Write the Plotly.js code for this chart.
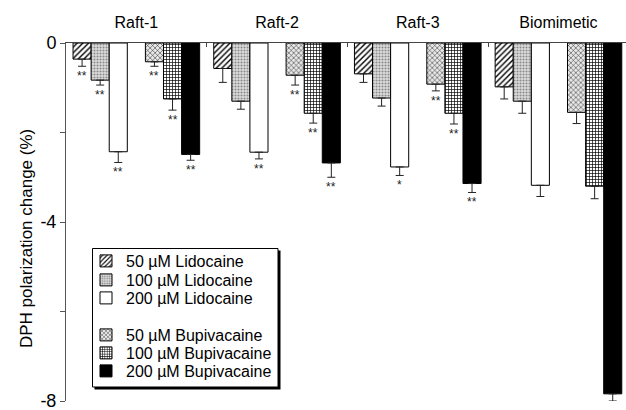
<!DOCTYPE html>
<html>
<head>
<meta charset="utf-8">
<script src="https://cdn.plot.ly/plotly-3.0.1.min.js"></script>
<style>html,body{margin:0;padding:0;background:#fff;}#chart{width:626px;height:410px;}</style>
</head>
<body>
<div id="chart"></div>
<script>
const categories = ['Raft-1', 'Raft-2', 'Raft-3', 'Biomimetic'];
const seriesNames = ['50 µM Lidocaine', '100 µM Lidocaine', '200 µM Lidocaine',
                     '50 µM Bupivacaine', '100 µM Bupivacaine', '200 µM Bupivacaine'];

const lido50 = [-0.36, -0.57, -0.69, -0.98];
const lido50Err = [0.16, 0.31, 0.19, 0.27];
const lido50Sig = ['**', '', '', ''];

const lido100 = [-0.83, -1.30, -1.23, -1.30];
const lido100Err = [0.11, 0.18, 0.18, 0.27];
const lido100Sig = ['**', '', '', ''];

const lido200 = [-2.43, -2.44, -2.77, -3.18];
const lido200Err = [0.24, 0.15, 0.19, 0.25];
const lido200Sig = ['**', '**', '*', ''];

const bupi50 = [-0.42, -0.72, -0.92, -1.55];
const bupi50Err = [0.10, 0.22, 0.15, 0.25];
const bupi50Sig = ['**', '**', '**', ''];

const bupi100 = [-1.25, -1.57, -1.57, -3.20];
const bupi100Err = [0.25, 0.22, 0.24, 0.28];
const bupi100Sig = ['**', '**', '**', ''];

const bupi200 = [-2.49, -2.68, -3.14, -7.84];
const bupi200Err = [0.13, 0.32, 0.20, 0.16];
const bupi200Sig = ['**', '**', '**', ''];

const yTickVals = [0, -2, -4, -6, -8];
const yTickText = ['0', '', '-4', '', '-8'];
const yTitle = 'DPH polarization change (%)';

// ---- styling / layout (not data) ----
const FONT = 'Liberation Sans, Arial, Helvetica, sans-serif';
const values = [lido50, lido100, lido200, bupi50, bupi100, bupi200];
const errs = [lido50Err, lido100Err, lido200Err, bupi50Err, bupi100Err, bupi200Err];
const sigs = [lido50Sig, lido100Sig, lido200Sig, bupi50Sig, bupi100Sig, bupi200Sig];
const slots = [0, 1, 2, 4, 5, 6];
const W = 0.9 / 7;
const styles = [
  {color: 'white', pattern: {shape: '/', fgcolor: '#000', bgcolor: '#fff', size: 4, solidity: 0.35, fillmode: 'replace'}},
  {color: '#d6d6d6', pattern: {shape: '.', fgcolor: '#8a8a8a', bgcolor: '#dedede', size: 3, solidity: 0.4, fillmode: 'replace'}},
  {color: 'white', pattern: {shape: ''}},
  {color: 'white', pattern: {shape: 'x', fgcolor: '#333', bgcolor: '#e8e8e8', size: 3.5, solidity: 0.3, fillmode: 'replace'}},
  {color: 'white', pattern: {shape: '+', fgcolor: '#000', bgcolor: '#fff', size: 3, solidity: 0.4, fillmode: 'replace'}},
  {color: 'black', pattern: {shape: ''}}
];

// plot area in pixels (for converting legend box positions to paper coords)
const PL = 66, PR = 626, PT = 43, PB = 401;
const px2x = p => (p - PL) / (PR - PL);
const py2y = p => (PB - p) / (PB - PT);
const legendRowsPx = [261, 280, 298, 335, 353, 371];
const legendIds = ['legend', 'legend2', 'legend3', 'legend4', 'legend5', 'legend6'];

const traces = values.map((v, i) => ({
  type: 'bar',
  name: seriesNames[i],
  x: categories,
  y: v,
  offset: -0.45 + slots[i] * W,
  width: W,
  legend: legendIds[i],
  cliponaxis: false,
  marker: {color: styles[i].color, pattern: styles[i].pattern, line: {color: '#000', width: 1}},
  error_y: {type: 'data', symmetric: false, array: v.map(() => 0), arrayminus: errs[i],
            color: '#222', thickness: 1, width: 4},
  hoverinfo: 'skip'
}));

const annotations = [];
values.forEach((v, i) => {
  v.forEach((val, c) => {
    if (sigs[i][c]) {
      annotations.push({
        xref: 'x', yref: 'y',
        x: c - 0.45 + slots[i] * W + W / 2,
        y: val - errs[i][c],
        text: sigs[i][c], showarrow: false,
        xanchor: 'center', yanchor: 'top', yshift: -1,
        font: {family: FONT, size: 12, color: '#222'}
      });
    }
  });
});
annotations.push({
  xref: 'paper', yref: 'paper', x: px2x(26), y: py2y(239),
  xanchor: 'center', yanchor: 'middle', textangle: -90, showarrow: false,
  text: yTitle, font: {family: FONT, size: 17, color: '#000'}
});

const layout = {
  width: 626, height: 410,
  margin: {l: PL, r: 626 - PR, t: PT, b: 410 - PB},
  paper_bgcolor: '#fff', plot_bgcolor: '#fff',
  font: {family: FONT, color: '#000', size: 16},
  barmode: 'overlay',
  showlegend: true,
  xaxis: {
    type: 'category', categoryorder: 'array', categoryarray: categories,
    range: [-0.5, 3.48], side: 'top',
    showline: true, linecolor: '#444', linewidth: 1,
    ticks: 'inside', tickson: 'boundaries', ticklen: 4, tickcolor: '#444',
    showgrid: false, zeroline: false, fixedrange: true,
    tickfont: {size: 16}, ticklabelstandoff: 8
  },
  yaxis: {
    range: [-8, 0], tickvals: yTickVals, ticktext: yTickText,
    showline: true, linecolor: '#555', linewidth: 1,
    ticks: 'outside', ticklen: 5, tickcolor: '#555',
    showgrid: false, zeroline: false, fixedrange: true,
    tickfont: {size: 18}, ticklabeloverflow: 'allow'
  },
  shapes: [
    {type: 'rect', xref: 'paper', yref: 'paper', x0: px2x(94.5), x1: px2x(280.5), y0: py2y(389.5), y1: py2y(250.5),
     fillcolor: '#000', line: {width: 0}},
    {type: 'rect', xref: 'paper', yref: 'paper', x0: px2x(92.5), x1: px2x(278), y0: py2y(387), y1: py2y(248.5),
     fillcolor: '#fff', line: {color: '#000', width: 1}}
  ],
  annotations: annotations
};
legendIds.forEach((id, i) => {
  layout[id] = {
    x: px2x(86), y: py2y(legendRowsPx[i]), xanchor: 'left', yanchor: 'middle',
    bgcolor: 'rgba(0,0,0,0)', borderwidth: 0,
    font: {family: FONT, size: 16, color: '#000'}
  };
});

Plotly.newPlot('chart', traces, layout, {displayModeBar: false, staticPlot: true});
</script>
</body>
</html>
